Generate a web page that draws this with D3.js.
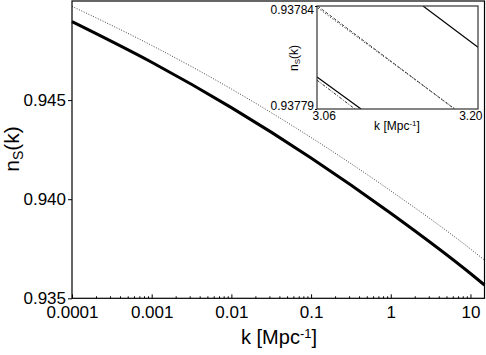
<!DOCTYPE html>
<html>
<head>
<meta charset="utf-8">
<script src="https://cdn.jsdelivr.net/npm/d3@7"></script>
<style>
  body { margin: 0; background: #fff; }
  svg { display: block; font-family: "Liberation Sans", Arial, sans-serif; }
  .axis path { display: none; }
  .axis line { stroke: #000; }
</style>
</head>
<body>
<div class="chart"></div>
<script>
// main panel: n_S(k) read at each decade (+ right edge)
const kMain = [0.0001, 0.001, 0.01, 0.1, 1, 10, 15];
const nsSolid = [0.94896, 0.94691, 0.94462, 0.94208, 0.93929, 0.93625, 0.93567];
const nsDotted = [0.94973, 0.94776, 0.94556, 0.94311, 0.94042, 0.93749, 0.93693];
const xTickValues = [0.0001, 0.001, 0.01, 0.1, 1, 10];
const xTickLabels = ["0.0001", "0.001", "0.01", "0.1", "1", "10"];
const yTickValues = [0.935, 0.940, 0.945];

// inset (zoom around k ~ 3.1)
const insetSolidA = {k: [3.1522, 3.20], ns: [0.93784, 0.937820]};
const insetSolidB = {k: [3.06, 3.0983], ns: [0.9378055, 0.93779]};
const insetDashDotA = {k: [3.0609, 3.180], ns: [0.937839, 0.93779]};
const insetDashedA = {k: [3.0605, 3.1795], ns: [0.93784, 0.93779]};
const insetDashDotB = {k: [3.06, 3.093], ns: [0.937804, 0.93779]};
const insetXTicks = [3.06, 3.20];
const insetYTicks = [0.93779, 0.93784];

function zipK(k, ns) { return k.map((d, i) => ({k: d, ns: ns[i]})); }

let svg = d3.select('.chart').append('svg')
    .attr('width', 486)
    .attr('height', 355);

let margin = {top: 1, right: 1.5, bottom: 56.7, left: 72};
let width = 486 - margin.left - margin.right;
let height = 355 - margin.top - margin.bottom;

let x = d3.scaleLog().domain([0.0001, 15]).range([0, width]);
let y = d3.scaleLinear().domain([0.935, 0.950]).range([height, 0]);

let g = svg.append('g')
    .attr('transform', 'translate(' + margin.left + ',' + margin.top + ')');

// x axis: major ticks inside with labels, minor ticks inside
let minor = [];
for (let e = -4; e <= 1; e++) {
    for (let m = 2; m <= 9; m++) {
        let v = m * Math.pow(10, e);
        if (v <= 15) minor.push(v);
    }
}
g.append('g')
    .attr('class', 'axis')
    .attr('transform', 'translate(0,' + height + ')')
    .call(d3.axisBottom(x).tickValues(minor).tickSize(-2).tickFormat(''));
g.append('g')
    .attr('class', 'axis')
    .attr('transform', 'translate(0,' + height + ')')
    .call(d3.axisBottom(x).tickValues(xTickValues).tickSize(-4).tickPadding(8)
        .tickFormat((d, i) => xTickLabels[i]))
    .selectAll('text')
    .style('font-size', '17px')
    .attr('fill', '#000');

g.append('g')
    .attr('class', 'axis')
    .call(d3.axisLeft(y).tickValues(yTickValues).tickSize(4).tickPadding(2)
        .tickFormat(d3.format('.3f')))
    .selectAll('text')
    .style('font-size', '17px')
    .attr('fill', '#000');

let line = d3.line()
    .x(d => x(d.k))
    .y(d => y(d.ns))
    .curve(d3.curveMonotoneX);

g.append('path')
    .datum(zipK(kMain, nsDotted))
    .attr('fill', 'none')
    .attr('stroke', '#444')
    .attr('stroke-width', 1)
    .attr('stroke-dasharray', '1,1.6')
    .attr('d', line);

g.append('path')
    .datum(zipK(kMain, nsSolid))
    .attr('fill', 'none')
    .attr('stroke', '#000')
    .attr('stroke-width', 3)
    .attr('d', line);

g.append('rect')
    .attr('width', width)
    .attr('height', height)
    .attr('fill', 'none')
    .attr('stroke', '#000')
    .attr('stroke-width', 1.2);

// axis titles
let xTitle = svg.append('text')
    .attr('x', 279)
    .attr('y', 344)
    .attr('text-anchor', 'middle')
    .style('font-size', '20px')
    .text('k [Mpc');
xTitle.append('tspan').attr('dy', '-0.5em').style('font-size', '13px').text('-1');
xTitle.append('tspan').attr('dy', '0.33em').text(']');

let yTitle = svg.append('text')
    .attr('transform', 'translate(19,149) rotate(-90)')
    .attr('text-anchor', 'middle')
    .style('font-size', '21px')
    .text('n');
yTitle.append('tspan').attr('dy', '0.3em').style('font-size', '14px').text('S');
yTitle.append('tspan').attr('dy', '-0.2em').text('(k)');

// inset
let inset = {left: 317, top: 6, width: 161, height: 103};
let xi = d3.scaleLinear().domain([3.06, 3.20]).range([0, inset.width]);
let yi = d3.scaleLinear().domain([0.93779, 0.93784]).range([inset.height, 0]);

let gi = svg.append('g')
    .attr('transform', 'translate(' + inset.left + ',' + inset.top + ')');

gi.append('rect')
    .attr('width', inset.width)
    .attr('height', inset.height)
    .attr('fill', '#fff');

gi.append('clipPath').attr('id', 'insetClip')
    .append('rect')
    .attr('width', inset.width)
    .attr('height', inset.height);

let lineI = d3.line().x(d => xi(d.k)).y(d => yi(d.ns));
let insetSeries = [
    {s: insetDashedA, dash: '3,2', color: '#444', w: 1},
    {s: insetDashDotA, dash: '1,2', color: '#111', w: 1},
    {s: insetSolidA, dash: null, color: '#000', w: 1.2},
    {s: insetDashDotB, dash: '3,1.5,1,1.5', color: '#333', w: 1},
    {s: insetSolidB, dash: null, color: '#000', w: 1.2}
];
insetSeries.forEach(o => {
    gi.append('path')
        .datum(zipK(o.s.k, o.s.ns))
        .attr('clip-path', 'url(#insetClip)')
        .attr('fill', 'none')
        .attr('stroke', o.color)
        .attr('stroke-width', o.w)
        .attr('stroke-dasharray', o.dash)
        .attr('d', lineI);
});

gi.append('rect')
    .attr('width', inset.width)
    .attr('height', inset.height)
    .attr('fill', 'none')
    .attr('stroke', '#333')
    .attr('stroke-width', 1.2);

gi.append('g')
    .attr('class', 'axis')
    .attr('transform', 'translate(0,' + inset.height + ')')
    .call(d3.axisBottom(xi).tickValues(insetXTicks).tickSize(0).tickPadding(2)
        .tickFormat(d3.format('.2f')))
    .selectAll('text')
    .style('font-size', '12px')
    .attr('fill', '#000')
    .attr('text-anchor', (d, i) => i === 0 ? 'start' : 'end')
    .attr('dx', (d, i) => i === 0 ? '-5' : '4');

gi.append('g')
    .attr('class', 'axis')
    .call(d3.axisLeft(yi).tickValues(insetYTicks).tickSize(2).tickPadding(1)
        .tickFormat(d3.format('.5f')))
    .selectAll('text')
    .style('font-size', '12px')
    .attr('fill', '#000')
    .attr('dy', (d, i) => i === 0 ? '0' : '0.62em');

let xiTitle = gi.append('text')
    .attr('x', 80)
    .attr('y', 124)
    .attr('text-anchor', 'middle')
    .style('font-size', '12px')
    .text('k [Mpc');
xiTitle.append('tspan').attr('dy', '-0.5em').style('font-size', '8px').text('-1');
xiTitle.append('tspan').attr('dy', '0.33em').text(']');

let yiTitle = gi.append('text')
    .attr('transform', 'translate(-19,52) rotate(-90)')
    .attr('text-anchor', 'middle')
    .style('font-size', '12px')
    .text('n');
yiTitle.append('tspan').attr('dy', '0.3em').style('font-size', '8px').text('S');
yiTitle.append('tspan').attr('dy', '-0.2em').text('(k)');
</script>
</body>
</html>
